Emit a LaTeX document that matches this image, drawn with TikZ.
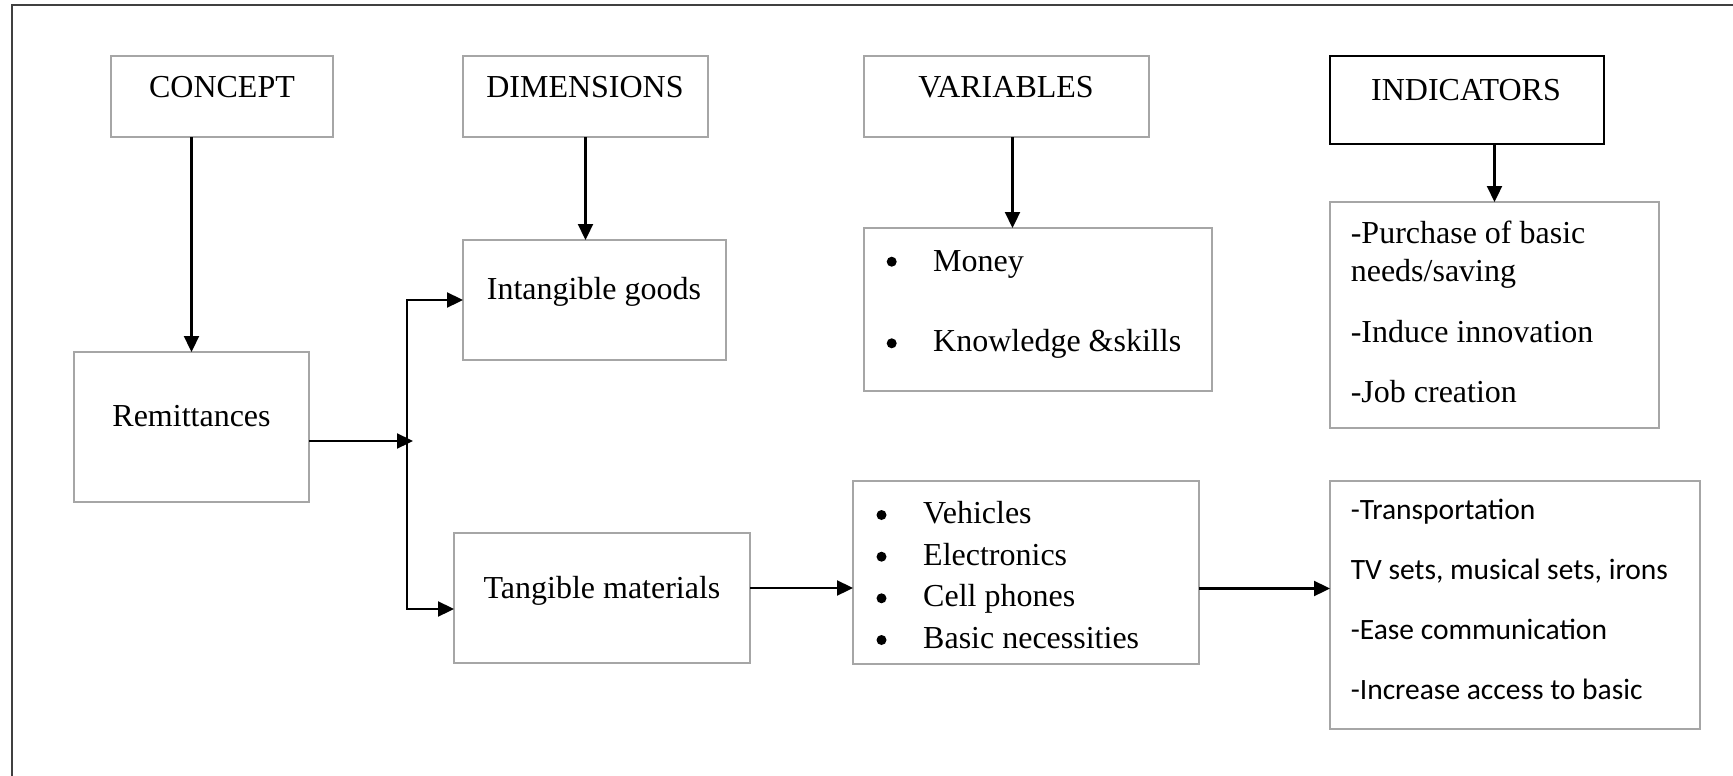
\documentclass[tikz,border=0pt]{standalone}
\usepackage{fontspec}
\setmainfont{Liberation Serif}
\newfontfamily\calibfont{Carlito}
\usetikzlibrary{arrows.meta}
\begin{document}
\begin{tikzpicture}[x=1pt,y=-1pt,
  gbox/.style={draw=black!35, line width=1.5pt, inner sep=0pt, outer sep=0pt, rectangle},
  kbox/.style={draw=black, line width=2.2pt, inner sep=0pt, outer sep=0pt, rectangle},
  lbl/.style={inner sep=0pt, anchor=base, font=\fontsize{32}{38}\selectfont},
  lbll/.style={lbl, anchor=base west},
  sans/.style={inner sep=0pt, anchor=base west, font=\calibfont\fontsize{29.5}{35}\selectfont},
  dot/.style={circle, fill=black, inner sep=0pt, minimum size=10pt},
  arr/.style={line width=2.3pt, -{Triangle[length=16pt,width=15pt]}},
  frame/.style={draw=black!75, line width=1.3pt}]

\useasboundingbox (0,0) rectangle (1733,776);

% outer frame (top and left edges)
\draw[frame] (12,776) -- (12,5) -- (1733,5);

% header boxes
\node[gbox, minimum width=222pt, minimum height=81pt] (concept) at (222,96.5) {};
\node[gbox, minimum width=245pt, minimum height=81pt] (dims) at (585.5,96.5) {};
\node[gbox, minimum width=285pt, minimum height=81pt] (vars) at (1006.5,96.5) {};
\node[kbox, minimum width=274pt, minimum height=88pt] (inds) at (1467,100) {};

\node[lbl] (tconcept) at (222,97) {CONCEPT};
\node[lbl] (tdims) at (585,97) {DIMENSIONS};
\node[lbl] (tvars) at (1006,97) {VARIABLES};
\node[lbl] (tinds) at (1466,100) {INDICATORS};

% content boxes
\node[gbox, minimum width=235pt, minimum height=150pt] (remit) at (191.5,427) {};
\node[gbox, minimum width=263pt, minimum height=120pt] (intang) at (594.5,300) {};
\node[gbox, minimum width=348pt, minimum height=163pt] (money) at (1038,309.5) {};
\node[gbox, minimum width=329pt, minimum height=226pt] (purch) at (1494.5,315) {};
\node[gbox, minimum width=296pt, minimum height=130pt] (tang) at (602,598) {};
\node[gbox, minimum width=346pt, minimum height=183pt] (veh) at (1026,572.5) {};
\node[gbox, minimum width=370pt, minimum height=248pt] (trans) at (1515,605) {};

\node[lbl] (tremit) at (191.5,426) {Remittances};
\node[lbl] (tintang) at (594,299) {Intangible goods};
\node[lbl] (ttang) at (602,598) {Tangible materials};

% variables list
\node[dot] (bmoney) at (891.7,261.7) {};
\node[lbll] (tmoney) at (933,271) {Money};
\node[dot] (bknow) at (891.7,343.3) {};
\node[lbll] (tknow) at (933,351.7) {Knowledge \&skills};

% indicators list
\node[lbll] (tp1) at (1350.6,243) {-Purchase of basic};
\node[lbll] (tp2) at (1350.6,281) {needs/saving};
\node[lbll] (tp3) at (1350.6,342) {-Induce innovation};
\node[lbll] (tp4) at (1350.6,402) {-Job creation};

% tangible variables list
\node[dot] (bv1) at (881.5,515) {};
\node[lbll] (tv1) at (923,523.3) {Vehicles};
\node[dot] (bv2) at (881.5,556.7) {};
\node[lbll] (tv2) at (923,565) {Electronics};
\node[dot] (bv3) at (881.5,598.3) {};
\node[lbll] (tv3) at (923,606.7) {Cell phones};
\node[dot] (bv4) at (881.5,640) {};
\node[lbll] (tv4) at (923,648.3) {Basic necessities};

% tangible indicators list
\node[sans] (ts1) at (1350.6,519.3) {-Transportation};
\node[sans] (ts2) at (1350.6,579.3) {TV sets, musical sets, irons};
\node[sans] (ts3) at (1350.6,639.3) {-Ease communication};
\node[sans] (ts4) at (1350.6,699.3) {-Increase access to basic};

% connectors
\draw[arr] (remit.north |- concept.south) -- (remit.north);
\draw[arr] (dims.south) -- (dims.south |- intang.north);
\draw[arr] ([xshift=6pt]vars.south) -- ([xshift=6pt]vars.south |- money.north);
\draw[arr] (purch.north |- inds.south) -- (purch.north);

\coordinate (split) at (413,441);
\coordinate (trunk) at (407,441);
\draw[arr] (remit.east |- split) -- (split);
\draw[arr] (trunk) |- (intang.west);
\draw[arr] (trunk) |- ([yshift=-11pt]tang.west);

\draw[arr] ([yshift=10pt]tang.east) -- ([yshift=10pt]tang.east -| veh.west);
\draw[arr] ([yshift=-16pt]veh.east) -- ([yshift=-16pt]veh.east -| trans.west);

\end{tikzpicture}
\end{document}
